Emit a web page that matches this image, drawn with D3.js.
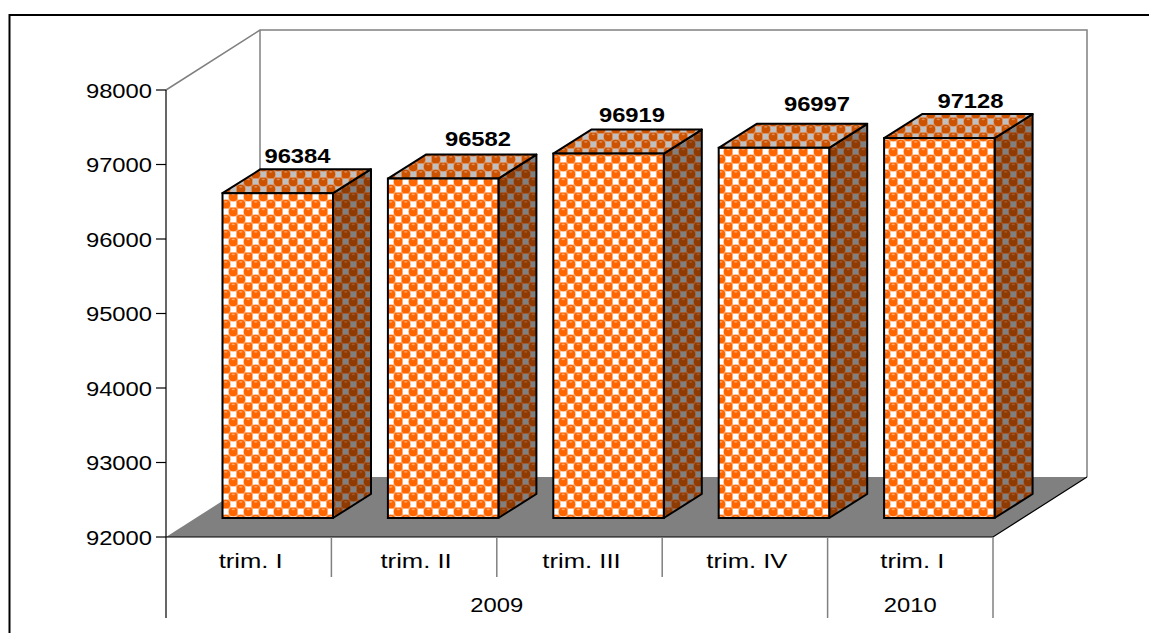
<!DOCTYPE html>
<html><head><meta charset="utf-8">
<script src="https://cdn.jsdelivr.net/npm/d3@7"></script>
<style>html,body{margin:0;padding:0;background:#fff}svg{display:block}text{font-family:"Liberation Sans",Arial,sans-serif;fill:#000}</style>
</head><body><div id="chart"></div>
<script>
const categories = ["trim. I","trim. II","trim. III","trim. IV","trim. I"];
const values = [96384,96582,96919,96997,97128];
const yearLabels = ["2009","2010"];
const yearSpans = [4,1];
const yTicks = [92000,93000,94000,95000,96000,97000,98000];

const W=1149,H=633;
const svg=d3.select("#chart").append("svg").attr("width",W).attr("height",H);
const defs=svg.append("defs");

function pattern(id,bg,ball,hi){
  const s=15;
  const p=defs.append("pattern").attr("id",id).attr("patternUnits","userSpaceOnUse")
    .attr("width",s).attr("height",s).attr("x",222).attr("y",193);
  p.append("rect").attr("width",s).attr("height",s).attr("fill",hi);
  [[0,0],[s/2,s/2]].forEach(([x,y])=>{
    p.append("rect").attr("x",x+0.9).attr("y",y+0.9).attr("width",s/2-1.8).attr("height",s/2-1.8).attr("fill",bg);
  });
  [[s*3/4,s/4],[s/4,s*3/4]].forEach(([x,y])=>{
    p.append("circle").attr("cx",x).attr("cy",y).attr("r",4.5).attr("fill",ball);
    p.append("ellipse").attr("cx",x).attr("cy",y-2.4).attr("rx",1.7).attr("ry",.9).attr("fill",hi);
  });
}
pattern("pFront","#ffffff","#ff6600","#ffa366");
pattern("pTop","#c0c0c0","#cc5200","#d98a55");
pattern("pSide","#808080","#8f3a00","#a0562a");

const yAxisScale=d3.scaleLinear().domain([92000,98000]).range([537,90]);
const yBar=d3.scaleLinear().domain([92000,98000]).range([518,73.5]);
const x0=166,slot=165.4;
const x=d3.scaleBand().domain(d3.range(categories.length)).range([x0,x0+slot*categories.length]).paddingInner(0).paddingOuter(0);
const depthX=94,depthY=60;

// stretched text: the reference's glyphs are wider than the installed font's
function label(xp,yp,str,size,k,weight){
  const t=svg.append("text").attr("x",xp).attr("y",yp).attr("text-anchor","middle")
    .attr("font-size",size).attr("font-weight",weight||"normal").text(str);
  const n=t.node().getComputedTextLength();
  t.attr("textLength",n*k).attr("lengthAdjust","spacingAndGlyphs");
  return t;
}

// frame: top and left only
svg.append("path").attr("d",`M9.5,633V15H1149`).attr("fill","none").attr("stroke","#000").attr("stroke-width",2);

// walls
const gray="#808080";
const floorRight=x0+slot*5;
svg.append("path").attr("d",`M${x0},90L${x0+depthX},30H${floorRight+depthX}V${537-depthY}`).attr("fill","none").attr("stroke",gray).attr("stroke-width",1.5);
svg.append("line").attr("x1",x0+depthX).attr("x2",x0+depthX).attr("y1",30).attr("y2",537-depthY).attr("stroke",gray).attr("stroke-width",1.5);
// floor
svg.append("path").attr("d",`M${x0},537L${x0+depthX},${537-depthY}H${floorRight+depthX}L${floorRight},537Z`).attr("fill",gray);
svg.append("path").attr("d",`M${x0},537H${floorRight}L${floorRight+depthX},${537-depthY}`).attr("fill","none").attr("stroke","#000").attr("stroke-width",1.2);

// bars
const barW=110.5,dx=38,dy=24,inset=56.5;
const labelOffsetX=[297.5,478,632,817,970.5], labelOffsetY=[163,146,122,110.5,108];
values.forEach((v,i)=>{
  const g=svg.append("g");
  const l=x(i)+inset, r=l+barW, t=yBar(v), b=yBar(92000);
  g.append("path").attr("d",`M${r},${t}L${r+dx},${t-dy}V${b-dy}L${r},${b}Z`).attr("fill","url(#pSide)").attr("stroke","#000").attr("stroke-width",2).attr("stroke-linejoin","round");
  g.append("path").attr("d",`M${l},${t}L${l+dx},${t-dy}H${r+dx}L${r},${t}Z`).attr("fill","url(#pTop)").attr("stroke","#000").attr("stroke-width",2).attr("stroke-linejoin","round");
  g.append("rect").attr("x",l).attr("y",t).attr("width",barW).attr("height",b-t).attr("fill","url(#pFront)").attr("stroke","#000").attr("stroke-width",2);
  label(labelOffsetX[i],labelOffsetY[i],v,19.5,1.22,"bold");
});

// y axis
svg.append("line").attr("x1",x0).attr("x2",x0).attr("y1",90).attr("y2",618).attr("stroke","#000").attr("stroke-width",1.2);
yTicks.forEach(t=>{
  const y=yAxisScale(t);
  svg.append("line").attr("x1",x0-10).attr("x2",x0).attr("y1",y).attr("y2",y).attr("stroke","#000").attr("stroke-width",1.2);
  label(119,y+7.5,t,20.5,1.16);
});

// category axis
categories.forEach((c,i)=>{
  label(x(i)+x.bandwidth()/2+2,568,c,20.5,1.25);
  if(i<categories.length-1 && i!==3) svg.append("line").attr("x1",x(i+1)).attr("x2",x(i+1)).attr("y1",537).attr("y2",577).attr("stroke",gray).attr("stroke-width",1.5);
});
let acc=0;
yearLabels.forEach((lab,k)=>{
  const a=x0+acc*slot,b=a+yearSpans[k]*slot;
  label((a+b)/2,612,lab,20.5,1.16);
  acc+=yearSpans[k];
  svg.append("line").attr("x1",b).attr("x2",b).attr("y1",537).attr("y2",618).attr("stroke",gray).attr("stroke-width",1.5);
});
</script></body></html>
